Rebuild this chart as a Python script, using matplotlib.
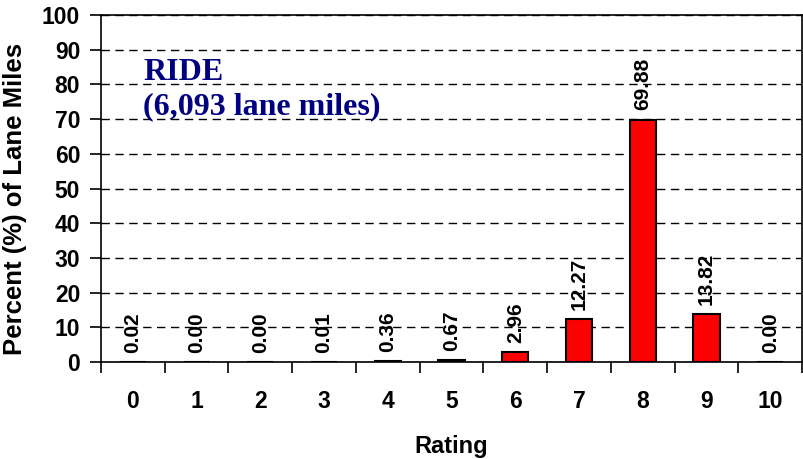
import matplotlib.pyplot as plt
from matplotlib.ticker import MultipleLocator, FixedLocator

# RIDE rating distribution, percent of lane miles per rating
ratings = [0, 1, 2, 3, 4, 5, 6, 7, 8, 9, 10]
percent = [0.02, 0.00, 0.00, 0.01, 0.36, 0.67, 2.96, 12.27, 69.88, 13.82, 0.00]
y_ticks = [0, 10, 20, 30, 40, 50, 60, 70, 80, 90, 100]

fig = plt.figure(figsize=(8.04, 4.59), dpi=100)
ax = fig.add_axes([0.1256, 0.2113, 0.872, 0.756])

bars = ax.bar(ratings, percent, width=0.41, color='#ff0000',
              edgecolor='black', linewidth=1.5, zorder=3)

# value labels above each bar, rotated
for x, v in zip(ratings, percent):
    ax.annotate(f'{v:.2f}', (x, v), xytext=(0, 6.5), textcoords='offset points',
                rotation=90, ha='center', va='bottom', fontsize=15,
                fontweight='bold', family='Liberation Sans')

ax.set_xlim(-0.5, 10.5)
ax.set_ylim(0, 100)
ax.yaxis.set_major_locator(FixedLocator(y_ticks))
ax.yaxis.grid(True, linestyle=(0, (6, 4)), color='black', linewidth=1, zorder=0)

# category labels centred, tick marks between categories
ax.set_xticks(ratings)
ax.set_xticklabels([str(r) for r in ratings])
ax.xaxis.set_minor_locator(MultipleLocator(1, offset=0.5))
ax.tick_params(axis='x', which='major', length=0, pad=20)
ax.tick_params(axis='x', which='minor', length=8, width=1.2, direction='out')
ax.tick_params(axis='y', length=8, width=1.2, direction='out', pad=7)

for lbl in ax.get_xticklabels() + ax.get_yticklabels():
    lbl.set_fontsize(16.5)
    lbl.set_fontweight('bold')
    lbl.set_family('Liberation Sans')

for sp in ax.spines.values():
    sp.set_linewidth(1.2)

ax.set_xlabel('Rating', fontsize=17, fontweight='bold', family='Liberation Sans',
              labelpad=16)
ax.set_ylabel('Percent (%) of Lane Miles', fontsize=18.5, fontweight='bold',
              family='Liberation Sans')
ax.yaxis.set_label_coords(-0.106, 0.47)

ax.text(0.06, 0.875, 'RIDE\n(6,093 lane miles)', transform=ax.transAxes,
        ha='left', va='top', fontsize=23, fontweight='bold',
        family='Liberation Serif', color='#000080', linespacing=1.2)

fig.savefig('out.png', dpi=100)
